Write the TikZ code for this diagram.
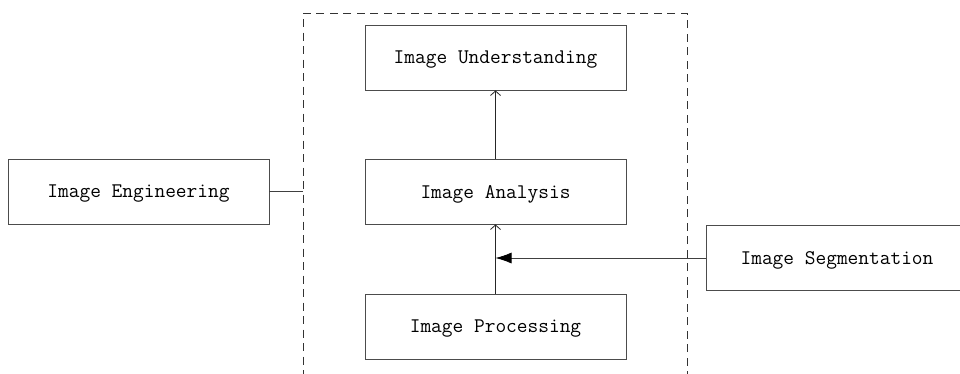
\documentclass[tikz,border=0pt]{standalone}
\usetikzlibrary{arrows.meta, positioning, calc}
\tikzset{
    stage/.style={rectangle, draw=black!70, line width=0.9pt, minimum width=261pt, minimum height=65pt, inner sep=0pt, text depth=-1.5pt, font=\ttfamily\fontsize{20.8}{24}\selectfont},
    frame/.style={rectangle, draw=black!80, line width=1pt, dash pattern=on 8pt off 5.5pt, minimum width=384pt, minimum height=387pt, inner sep=0pt},
    flowEdge/.style={-{Straight Barb[length=4.5pt, width=10pt]}, line width=0.8pt, black!85},
    feedEdge/.style={-{Latex[length=16pt, width=11pt, black]}, line width=0.8pt, black!75},
    plainEdge/.style={line width=0.8pt, black!75},
}
\newcommand{\drawLink}[3][flowEdge]{
    \draw[#1] (#2) -- (#3);
}

\begin{document}
\begin{tikzpicture}[x=1pt, y=-1pt]
        \useasboundingbox (0, 0) rectangle (960, 373);

        % the dashed group round the three stages
        \node[frame] (grp) at (495, 206.5) {};

        \node[stage] (und) at (495.5, 57.5) {Image Understanding};
        \node[stage] (ana) at (495.5, 191.5) {Image Analysis};
        \node[stage] (proc) at (495.5, 326.5) {Image Processing};
        \node[stage] (eng) at (138.5, 191.5) {Image Engineering};
        \node[stage] (seg) at (837, 258) {Image Segmentation};

        \coordinate (grpL) at (eng.east -| grp.west);
        \coordinate (join) at (proc.north |- seg.west);

        \drawLink{ana.north}{und.south}
        \drawLink{proc.north}{ana.south}
        \drawLink[plainEdge]{eng.east}{grpL}
        \drawLink[feedEdge]{seg.west}{join}

    \end{tikzpicture}
\end{document}
